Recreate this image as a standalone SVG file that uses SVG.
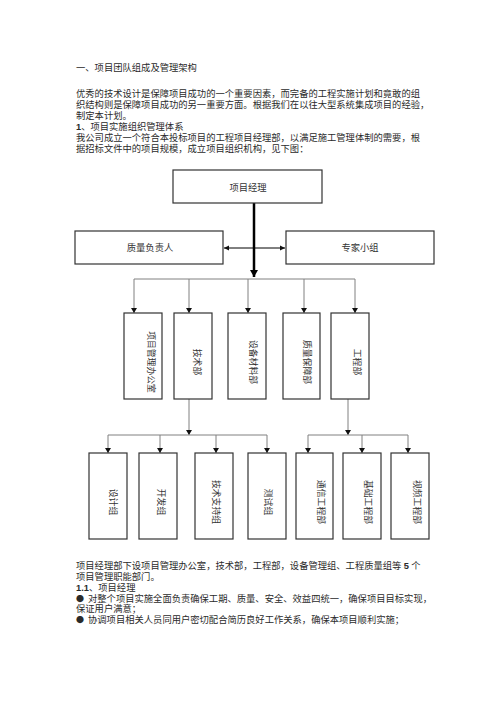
<svg xmlns="http://www.w3.org/2000/svg" width="500" height="708" viewBox="0 0 500 708">
<defs>
<style>
.t{font-family:"Liberation Serif","Noto Sans CJK SC",serif;font-size:9.3px;fill:#2a2a2a}
.n{font-family:"Liberation Sans","Noto Sans CJK SC",sans-serif;font-weight:bold}
.bu{font-family:"Noto Sans CJK SC",sans-serif;font-size:8px}
.b{fill:#fff;stroke:#333;stroke-width:1.2}
.l{font-family:"Liberation Serif","Noto Sans CJK SC",serif;font-size:9.3px;fill:#333;text-anchor:middle;dominant-baseline:central}
.v{font-family:"Liberation Serif","Noto Sans CJK SC",serif;font-size:8.8px;fill:#333;text-anchor:middle;dominant-baseline:central}
.c{fill:none;stroke:#808080;stroke-width:1}
</style>
<marker id="ah" markerUnits="userSpaceOnUse" markerWidth="6" markerHeight="6" refX="5" refY="3" orient="auto">
<path d="M0,0 L5,3 L0,6 Z" fill="#111"/>
</marker>
<marker id="ahs" markerUnits="userSpaceOnUse" markerWidth="6" markerHeight="6" refX="5" refY="3" orient="auto-start-reverse">
<path d="M0,0.5 L5,3 L0,5.5 Z" fill="#111"/>
</marker>
<marker id="ahb" markerUnits="userSpaceOnUse" markerWidth="8" markerHeight="8" refX="7" refY="4" orient="auto">
<path d="M0,0 L7,4 L0,8 Z" fill="#000"/>
</marker>
</defs>
<rect width="500" height="708" fill="#fff"/>

<g id="text-top">
<text class="t" x="76" y="70.5">一、项目团队组成及管理架构</text>
<text class="t" x="76" y="96.5">优秀的技术设计是保障项目成功的一个重要因素，而完备的工程实施计划和竟敢的组</text>
<text class="t" x="76" y="107.5">织结构则是保障项目成功的另一重要方面。根据我们在以往大型系统集成项目的经验，</text>
<text class="t" x="76" y="118.5">制定本计划。</text>
<text class="t" x="76" y="129.5"><tspan class="n">1</tspan>、项目实施组织管理体系</text>
<text class="t" x="76" y="140.5">我公司成立一个符合本投标项目的工程项目经理部，以满足施工管理体制的需要，根</text>
<text class="t" x="76" y="151.5">据招标文件中的项目规模，成立项目组织机构，见下图：</text>
</g>

<g id="connectors">
<line x1="254" y1="203" x2="254" y2="277" stroke="#000" stroke-width="2.5" marker-end="url(#ahb)"/>
<line x1="224" y1="248" x2="285" y2="248" stroke="#000" stroke-width="1" marker-start="url(#ahs)" marker-end="url(#ahs)"/>
<path class="c" d="M134,279 H355"/>
<line class="c" x1="134" y1="279" x2="134" y2="313" marker-end="url(#ah)"/>
<line class="c" x1="189" y1="279" x2="189" y2="313" marker-end="url(#ah)"/>
<line class="c" x1="248" y1="279" x2="248" y2="313" marker-end="url(#ah)"/>
<line class="c" x1="304" y1="279" x2="304" y2="313" marker-end="url(#ah)"/>
<line class="c" x1="355" y1="279" x2="355" y2="313" marker-end="url(#ah)"/>
<line class="c" x1="189" y1="399" x2="189" y2="435" marker-end="url(#ah)"/>
<path class="c" d="M108,435 H267"/>
<line class="c" x1="108" y1="435" x2="108" y2="453" marker-end="url(#ah)"/>
<line class="c" x1="160" y1="435" x2="160" y2="453" marker-end="url(#ah)"/>
<line class="c" x1="216" y1="435" x2="216" y2="453" marker-end="url(#ah)"/>
<line class="c" x1="267" y1="435" x2="267" y2="453" marker-end="url(#ah)"/>
<line class="c" x1="348" y1="399" x2="348" y2="435" marker-end="url(#ah)"/>
<path class="c" d="M308,435 H408"/>
<line class="c" x1="308" y1="435" x2="308" y2="453" marker-end="url(#ah)"/>
<line class="c" x1="362" y1="435" x2="362" y2="453" marker-end="url(#ah)"/>
<line class="c" x1="408" y1="435" x2="408" y2="453" marker-end="url(#ah)"/>
</g>

<g id="n-pm"><rect class="b" x="173" y="170" width="149" height="33"/><text class="l" x="248" y="188">项目经理</text></g>
<g id="n-quality"><rect class="b" x="75" y="231" width="148" height="33"/><text class="l" x="150" y="248">质量负责人</text></g>
<g id="n-expert"><rect class="b" x="286" y="231" width="148" height="33"/><text class="l" x="360" y="248">专家小组</text></g>

<g id="n-office"><rect class="b" x="124" y="313" width="38" height="86"/><text class="v" x="151" y="362" transform="rotate(90 151 362)">项目管理办公室</text></g>
<g id="n-tech"><rect class="b" x="174" y="313" width="38" height="86"/><text class="v" x="197" y="362" transform="rotate(90 197 362)">技术部</text></g>
<g id="n-equip"><rect class="b" x="228" y="313" width="38" height="86"/><text class="v" x="253" y="362" transform="rotate(90 253 362)">设备材料部</text></g>
<g id="n-qa"><rect class="b" x="283" y="313" width="37" height="86"/><text class="v" x="307" y="362" transform="rotate(90 307 362)">质量保障部</text></g>
<g id="n-eng"><rect class="b" x="331" y="313" width="38" height="86"/><text class="v" x="357" y="362" transform="rotate(90 357 362)">工程部</text></g>

<g id="n-design"><rect class="b" x="89" y="453" width="38" height="86"/><text class="v" x="113" y="502" transform="rotate(90 113 502)">设计组</text></g>
<g id="n-dev"><rect class="b" x="139" y="453" width="38" height="86"/><text class="v" x="161" y="502" transform="rotate(90 161 502)">开发组</text></g>
<g id="n-support"><rect class="b" x="195" y="453" width="38" height="86"/><text class="v" x="216" y="502" transform="rotate(90 216 502)">技术支持组</text></g>
<g id="n-test"><rect class="b" x="248" y="453" width="38" height="86"/><text class="v" x="268" y="502" transform="rotate(90 268 502)">测试组</text></g>
<g id="n-comm"><rect class="b" x="296" y="453" width="37" height="86"/><text class="v" x="321" y="502" transform="rotate(90 321 502)">通信工程部</text></g>
<g id="n-base"><rect class="b" x="343" y="453" width="38" height="86"/><text class="v" x="368" y="502" transform="rotate(90 368 502)">基础工程部</text></g>
<g id="n-video"><rect class="b" x="391" y="453" width="38" height="86"/><text class="v" x="417" y="502" transform="rotate(90 417 502)">视频工程部</text></g>

<g id="text-bottom">
<text class="t" x="76" y="568.5">项目经理部下设项目管理办公室，技术部，工程部，设备管理组、工程质量组等 <tspan class="n">5</tspan> 个</text>
<text class="t" x="76" y="579.5">项目管理职能部门。</text>
<text class="t" x="76" y="590.5"><tspan class="n">1.1</tspan>、项目经理</text>
<text class="t" x="76" y="601.5"><tspan class="bu">●</tspan><tspan x="88">对整个项目实施全面负责确保工期、质量、安全、效益四统一，确保项目目标实现，</tspan></text>
<text class="t" x="76" y="611.5">保证用户满意；</text>
<text class="t" x="76" y="622.5"><tspan class="bu">●</tspan><tspan x="88">协调项目相关人员同用户密切配合简历良好工作关系，确保本项目顺利实施；</tspan></text>
</g>
</svg>
